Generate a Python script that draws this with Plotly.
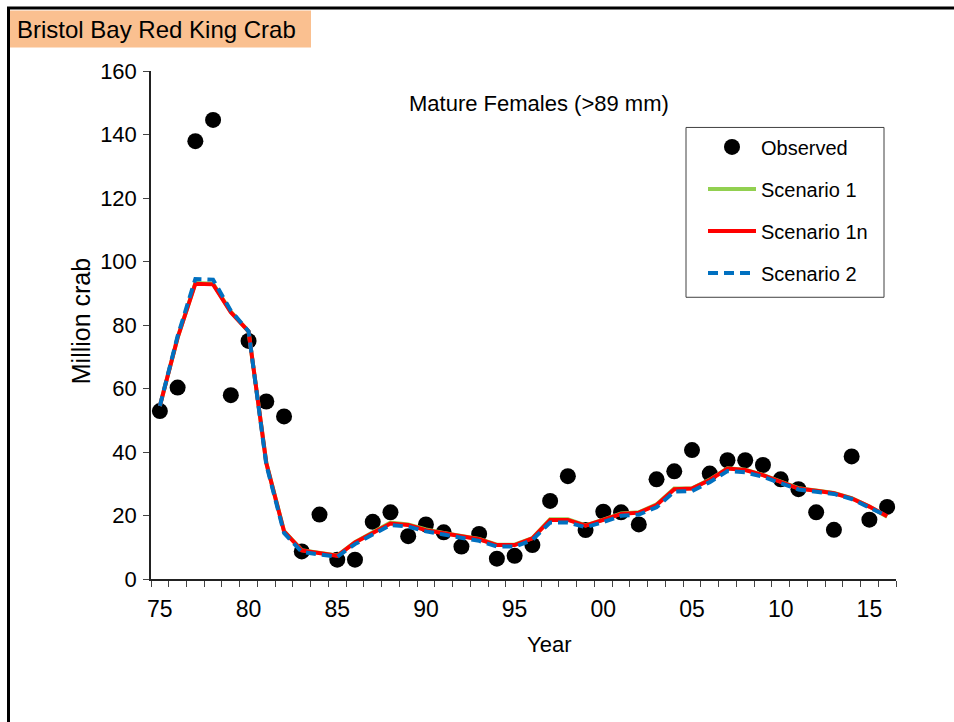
import plotly.graph_objects as go

years = list(range(1975, 2017))

observed = [52.9, 60.3, 137.9, 144.6, 57.9, 75.0, 55.9, 51.2, 8.7, 20.3,
            6.1, 6.1, 18.0, 21.0, 13.5, 17.2, 14.7, 10.2, 14.2, 6.4,
            7.3, 10.7, 24.6, 32.4, 15.4, 21.2, 21.0, 17.2, 31.4, 33.9,
            40.6, 33.2, 37.4, 37.4, 35.9, 31.4, 28.3, 21.0, 15.5, 38.6,
            18.7, 22.7]

scenario1 = [54.5, 76.0, 93.2, 93.0, 84.2, 78.0, 36.6, 15.1, 9.1, 8.4,
             7.4, 11.6, 14.7, 17.8, 17.2, 15.6, 14.5, 13.4, 12.6, 10.8,
             10.8, 12.9, 18.8, 18.8, 16.9, 18.7, 20.6, 21.0, 23.5, 28.5,
             28.6, 31.3, 34.9, 34.4, 32.8, 30.7, 28.6, 27.9, 27.1, 25.5,
             22.8, 19.6]

scenario1n = [54.5, 76.0, 93.0, 92.8, 84.0, 78.0, 36.5, 15.0, 9.0, 8.3,
              7.3, 11.5, 14.5, 17.5, 17.0, 15.4, 14.4, 13.3, 12.5, 10.7,
              10.7, 12.8, 18.6, 18.6, 16.8, 18.6, 20.5, 20.9, 23.3, 28.3,
              28.5, 31.2, 34.8, 34.3, 32.7, 30.6, 28.5, 27.8, 27.0, 25.4,
              22.8, 19.8]

scenario2 = [54.5, 76.5, 94.5, 94.3, 84.5, 78.0, 36.0, 14.5, 8.5, 7.8,
             7.0, 11.0, 14.0, 17.0, 16.5, 15.0, 14.0, 13.0, 12.0, 10.2,
             10.2, 12.3, 17.8, 17.8, 16.3, 17.9, 19.9, 20.3, 22.6, 27.5,
             27.7, 30.5, 34.0, 33.6, 32.2, 30.2, 28.2, 27.5, 26.8, 25.2,
             22.5, 19.8]

tick_years = [1975, 1980, 1985, 1990, 1995, 2000, 2005, 2010, 2015]
tick_labels = ["75", "80", "85", "90", "95", "00", "05", "10", "15"]
y_ticks = [0, 20, 40, 60, 80, 100, 120, 140, 160]

W, H = 954, 722
L, R, T, B = 151, 896, 70.5, 579
PW, PH = R - L, B - T

def px(x):
    return (x - L) / PW

def py(y):
    return (B - y) / PH

FONT = "Liberation Sans, Arial, sans-serif"

fig = go.Figure()
fig.add_trace(go.Scatter(x=years, y=observed, mode="markers", name="Observed",
                         marker=dict(color="black", size=16, symbol="circle"),
                         legendgroup="a"))
fig.add_trace(go.Scatter(x=years, y=scenario1, mode="lines", name="Scenario 1",
                         line=dict(color="#92D050", width=4), legendgroup="b"))
fig.add_trace(go.Scatter(x=years, y=scenario1n, mode="lines", name="Scenario 1n",
                         line=dict(color="#FF0000", width=4), legendgroup="c"))
fig.add_trace(go.Scatter(x=years, y=scenario2, mode="lines", name="Scenario 2",
                         line=dict(color="#0070C0", width=4, dash="10px,6px"),
                         legendgroup="d"))

fig.update_layout(
    width=W, height=H,
    margin=dict(l=L, r=W - R, t=T, b=H - B, pad=0),
    paper_bgcolor="white", plot_bgcolor="white",
    font=dict(family=FONT, size=22, color="black"),
    showlegend=True,
    legend=dict(x=px(703), y=py(127), xanchor="left", yanchor="top",
                borderwidth=0, bgcolor="rgba(0,0,0,0)",
                font=dict(family=FONT, size=20, color="black"),
                tracegroupgap=13, itemwidth=48),
    xaxis=dict(range=[1974.5, 2016.5], tickmode="array", tickvals=tick_years,
               ticktext=tick_labels, ticks="outside", ticklen=0,
               showgrid=False, zeroline=False, showline=True,
               linecolor="#222", linewidth=1.5, ticklabelstandoff=9,
               tickfont=dict(family=FONT, size=23),
               minor=dict(tick0=1974.5, dtick=1, ticks="outside", ticklen=6,
                          tickcolor="#444", tickwidth=1, showgrid=False)),
    yaxis=dict(range=[0, 160], tickvals=y_ticks, ticks="outside", ticklen=6,
               tickcolor="#444", showgrid=False, zeroline=False, showline=True,
               linecolor="#222", linewidth=1.5, ticklabelstandoff=2,
               tickfont=dict(family=FONT, size=22)),
)

# legend frame
fig.add_shape(type="rect", xref="paper", yref="paper",
              x0=px(686), x1=px(884), y0=py(127), y1=py(297),
              line=dict(color="#404040", width=1), fillcolor="rgba(0,0,0,0)")

fig.add_annotation(text="Million crab", xref="paper", yref="paper",
                   x=px(81), y=py(321), xanchor="center", yanchor="middle",
                   textangle=-90, showarrow=False,
                   font=dict(family=FONT, size=25))
fig.add_annotation(text="Mature Females (>89 mm)", xref="paper", yref="paper",
                   x=px(539), y=py(103), xanchor="center", yanchor="middle",
                   showarrow=False, font=dict(family=FONT, size=22))
fig.add_annotation(text="Year", xref="paper", yref="paper",
                   x=px(549), y=py(645), xanchor="center", yanchor="middle",
                   showarrow=False, font=dict(family=FONT, size=22))

# title box
fig.add_shape(type="rect", xref="paper", yref="paper",
              x0=px(7), x1=px(311), y0=py(10), y1=py(47),
              line=dict(width=0), fillcolor="#FAC090", layer="below")
fig.add_annotation(text="Bristol Bay Red King Crab", xref="paper", yref="paper",
                   x=px(15), y=py(28.5), xanchor="left", yanchor="middle",
                   showarrow=False, align="left",
                   font=dict(family=FONT, size=24, color="black"))

# page frame
fig.add_shape(type="line", xref="paper", yref="paper",
              x0=px(8.5), x1=px(8.5), y0=py(6.5), y1=py(730),
              line=dict(color="black", width=3))
fig.add_shape(type="line", xref="paper", yref="paper",
              x0=px(7), x1=px(960), y0=py(7.5), y1=py(7.5),
              line=dict(color="black", width=3))

fig.write_html("out.html",
               config={"displayModeBar": False},
               post_script="document.body.style.margin='0';"
                           "document.body.style.overflow='hidden';")
